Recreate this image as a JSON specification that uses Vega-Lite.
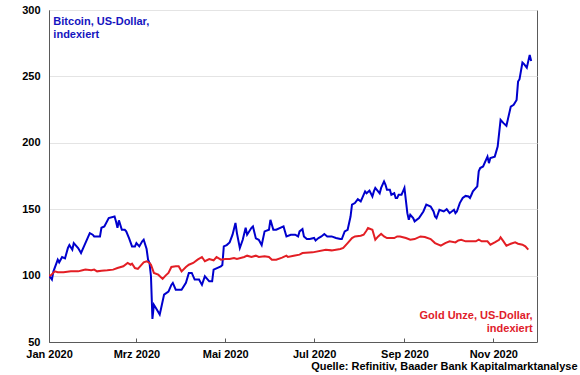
{
  "$schema": "https://vega.github.io/schema/vega-lite/v6.json",
  "width": 488,
  "height": 332,
  "autosize": "none",
  "padding": {"left": 49, "top": 10, "right": 43, "bottom": 33},
  "background": "white",
  "config": {
    "font": "Liberation Sans",
    "view": {"stroke": "#5a5a5a", "strokeWidth": 1}
  },
  "datasets": {
    "btc": [
      {"d":"2020-01-01","v":100},{"d":"2020-01-03","v":97},{"d":"2020-01-04","v":103},{"d":"2020-01-07","v":112},{"d":"2020-01-08","v":110},{"d":"2020-01-10","v":114},{"d":"2020-01-12","v":113},{"d":"2020-01-14","v":120.8},{"d":"2020-01-15","v":123},{"d":"2020-01-17","v":119.5},{"d":"2020-01-18","v":124.5},{"d":"2020-01-21","v":120.8},{"d":"2020-01-23","v":117},{"d":"2020-01-25","v":122},{"d":"2020-01-29","v":132},{"d":"2020-01-31","v":130.8},
      {"d":"2020-02-01","v":129.5},{"d":"2020-02-05","v":129.5},{"d":"2020-02-06","v":136},{"d":"2020-02-08","v":137},{"d":"2020-02-11","v":143.3},{"d":"2020-02-15","v":144.5},{"d":"2020-02-16","v":140.8},{"d":"2020-02-17","v":136},{"d":"2020-02-18","v":141.6},{"d":"2020-02-20","v":134.5},{"d":"2020-02-22","v":134.5},{"d":"2020-02-23","v":133.3},{"d":"2020-02-25","v":128},{"d":"2020-02-27","v":122},{"d":"2020-02-29","v":122},
      {"d":"2020-03-01","v":124.5},{"d":"2020-03-03","v":122},{"d":"2020-03-05","v":125.8},{"d":"2020-03-06","v":127},{"d":"2020-03-08","v":120},{"d":"2020-03-09","v":112},{"d":"2020-03-10","v":109.5},{"d":"2020-03-11","v":99.5},{"d":"2020-03-12","v":67.4},{"d":"2020-03-13","v":78},{"d":"2020-03-15","v":74.4},{"d":"2020-03-17","v":70.7},{"d":"2020-03-18","v":75.6},{"d":"2020-03-20","v":85.7},{"d":"2020-03-23","v":88},{"d":"2020-03-25","v":93},{"d":"2020-03-26","v":94.5},{"d":"2020-03-28","v":89.4},
      {"d":"2020-04-01","v":89.4},{"d":"2020-04-04","v":94.5},{"d":"2020-04-06","v":102},{"d":"2020-04-08","v":102},{"d":"2020-04-10","v":97},{"d":"2020-04-13","v":97},{"d":"2020-04-15","v":93},{"d":"2020-04-17","v":99.5},{"d":"2020-04-20","v":95.7},{"d":"2020-04-22","v":95.7},{"d":"2020-04-23","v":104.5},{"d":"2020-04-28","v":107},{"d":"2020-04-29","v":108},{"d":"2020-04-30","v":122},
      {"d":"2020-05-02","v":123},{"d":"2020-05-04","v":125},{"d":"2020-05-06","v":130.8},{"d":"2020-05-08","v":139.6},{"d":"2020-05-09","v":132},{"d":"2020-05-11","v":120.8},{"d":"2020-05-13","v":127},{"d":"2020-05-15","v":136},{"d":"2020-05-16","v":130.8},{"d":"2020-05-19","v":136},{"d":"2020-05-20","v":137},{"d":"2020-05-22","v":128},{"d":"2020-05-24","v":127},{"d":"2020-05-26","v":123},{"d":"2020-05-28","v":133.3},{"d":"2020-05-31","v":134.5},
      {"d":"2020-06-01","v":142},{"d":"2020-06-03","v":134.5},{"d":"2020-06-05","v":134.5},{"d":"2020-06-10","v":137},{"d":"2020-06-12","v":129.5},{"d":"2020-06-15","v":130.8},{"d":"2020-06-18","v":130.8},{"d":"2020-06-20","v":129.5},{"d":"2020-06-21","v":133.3},{"d":"2020-06-23","v":135},{"d":"2020-06-24","v":129.5},{"d":"2020-06-26","v":127.5},{"d":"2020-06-28","v":127.5},
      {"d":"2020-07-01","v":128.3},{"d":"2020-07-02","v":126.5},{"d":"2020-07-04","v":128.3},{"d":"2020-07-06","v":129.5},{"d":"2020-07-08","v":131.3},{"d":"2020-07-10","v":129.5},{"d":"2020-07-13","v":129.5},{"d":"2020-07-16","v":128.3},{"d":"2020-07-19","v":127.5},{"d":"2020-07-20","v":127.5},{"d":"2020-07-22","v":133.3},{"d":"2020-07-24","v":134.5},{"d":"2020-07-26","v":144.5},{"d":"2020-07-27","v":153.4},{"d":"2020-07-29","v":154.6},{"d":"2020-07-31","v":157.6},
      {"d":"2020-08-02","v":155.9},{"d":"2020-08-03","v":158.4},{"d":"2020-08-05","v":163.4},{"d":"2020-08-06","v":162},{"d":"2020-08-08","v":164},{"d":"2020-08-10","v":159.6},{"d":"2020-08-11","v":163.4},{"d":"2020-08-12","v":166},{"d":"2020-08-15","v":162},{"d":"2020-08-16","v":166},{"d":"2020-08-18","v":170.9},{"d":"2020-08-19","v":168.4},{"d":"2020-08-20","v":164.6},{"d":"2020-08-22","v":164.6},{"d":"2020-08-23","v":160.9},{"d":"2020-08-25","v":162},{"d":"2020-08-26","v":158.4},{"d":"2020-08-27","v":158.4},{"d":"2020-08-28","v":160.9},{"d":"2020-08-30","v":160.9},{"d":"2020-08-31","v":163.4},
      {"d":"2020-09-01","v":166},{"d":"2020-09-03","v":147},{"d":"2020-09-04","v":142},{"d":"2020-09-05","v":145.8},{"d":"2020-09-07","v":143.3},{"d":"2020-09-08","v":140.8},{"d":"2020-09-11","v":143.3},{"d":"2020-09-14","v":148.3},{"d":"2020-09-16","v":153.4},{"d":"2020-09-19","v":152},{"d":"2020-09-21","v":148.3},{"d":"2020-09-22","v":144.5},{"d":"2020-09-23","v":143.3},{"d":"2020-09-25","v":149.6},{"d":"2020-09-28","v":148.3},{"d":"2020-09-30","v":150},
      {"d":"2020-10-02","v":147},{"d":"2020-10-05","v":149.6},{"d":"2020-10-06","v":147},{"d":"2020-10-07","v":148.3},{"d":"2020-10-09","v":154.6},{"d":"2020-10-11","v":158.4},{"d":"2020-10-13","v":160},{"d":"2020-10-15","v":159.6},{"d":"2020-10-16","v":158.4},{"d":"2020-10-17","v":160.9},{"d":"2020-10-18","v":163.4},{"d":"2020-10-21","v":167.2},{"d":"2020-10-22","v":178.5},{"d":"2020-10-23","v":181},{"d":"2020-10-25","v":182.2},{"d":"2020-10-27","v":187.2},{"d":"2020-10-28","v":189.6},{"d":"2020-10-29","v":184.7},{"d":"2020-10-30","v":188.5},
      {"d":"2020-11-02","v":189.6},{"d":"2020-11-04","v":197.2},{"d":"2020-11-06","v":217.3},{"d":"2020-11-08","v":214.8},{"d":"2020-11-10","v":212.8},{"d":"2020-11-13","v":227.3},{"d":"2020-11-15","v":228.6},{"d":"2020-11-17","v":232.3},{"d":"2020-11-18","v":246.1},{"d":"2020-11-19","v":247.9},{"d":"2020-11-21","v":260.4},{"d":"2020-11-22","v":259.4},{"d":"2020-11-24","v":256.6},{"d":"2020-11-26","v":266.2},{"d":"2020-11-27","v":261.6}
    ],
    "gold": [
      {"d":"2020-01-01","v":100},{"d":"2020-01-02","v":100},{"d":"2020-01-05","v":103.2},{"d":"2020-01-07","v":102.5},{"d":"2020-01-11","v":102.5},{"d":"2020-01-16","v":103.2},{"d":"2020-01-21","v":103.2},{"d":"2020-01-24","v":104},{"d":"2020-01-26","v":104.5},{"d":"2020-01-30","v":104},
      {"d":"2020-02-01","v":104.5},{"d":"2020-02-03","v":103.2},{"d":"2020-02-06","v":103.7},{"d":"2020-02-10","v":104},{"d":"2020-02-14","v":104.5},{"d":"2020-02-17","v":105.7},{"d":"2020-02-21","v":107},{"d":"2020-02-24","v":109.5},{"d":"2020-02-26","v":108.2},{"d":"2020-02-27","v":109},{"d":"2020-02-29","v":105.7},
      {"d":"2020-03-02","v":105},{"d":"2020-03-04","v":107.5},{"d":"2020-03-06","v":110},{"d":"2020-03-08","v":110.8},{"d":"2020-03-10","v":109.5},{"d":"2020-03-11","v":108.2},{"d":"2020-03-13","v":102},{"d":"2020-03-16","v":100.7},{"d":"2020-03-19","v":97.5},{"d":"2020-03-21","v":100},{"d":"2020-03-23","v":102},{"d":"2020-03-25","v":106.5},{"d":"2020-03-28","v":107},{"d":"2020-03-30","v":107},
      {"d":"2020-04-01","v":103.2},{"d":"2020-04-04","v":106.5},{"d":"2020-04-06","v":108.2},{"d":"2020-04-09","v":109.5},{"d":"2020-04-12","v":112},{"d":"2020-04-15","v":114},{"d":"2020-04-17","v":110.8},{"d":"2020-04-20","v":112.5},{"d":"2020-04-23","v":111.5},{"d":"2020-04-25","v":114},{"d":"2020-04-28","v":112},
      {"d":"2020-05-01","v":112.5},{"d":"2020-05-04","v":112.5},{"d":"2020-05-07","v":113.3},{"d":"2020-05-09","v":112.5},{"d":"2020-05-14","v":114},{"d":"2020-05-16","v":115},{"d":"2020-05-19","v":114},{"d":"2020-05-22","v":115},{"d":"2020-05-24","v":114},{"d":"2020-05-28","v":114.5},{"d":"2020-05-31","v":114},
      {"d":"2020-06-02","v":112},{"d":"2020-06-05","v":112},{"d":"2020-06-09","v":113.5},{"d":"2020-06-12","v":115},{"d":"2020-06-13","v":114},{"d":"2020-06-17","v":115},{"d":"2020-06-21","v":115.8},{"d":"2020-06-23","v":117},{"d":"2020-06-30","v":117.5},
      {"d":"2020-07-09","v":119.5},{"d":"2020-07-13","v":119},{"d":"2020-07-19","v":120},{"d":"2020-07-21","v":120.8},{"d":"2020-07-24","v":124.5},{"d":"2020-07-27","v":128.3},{"d":"2020-07-29","v":129.5},
      {"d":"2020-08-02","v":130},{"d":"2020-08-04","v":130.8},{"d":"2020-08-06","v":134},{"d":"2020-08-07","v":135.8},{"d":"2020-08-10","v":134.5},{"d":"2020-08-11","v":130.8},{"d":"2020-08-12","v":127},{"d":"2020-08-14","v":129.5},{"d":"2020-08-16","v":131.5},{"d":"2020-08-18","v":129.5},{"d":"2020-08-20","v":128.3},{"d":"2020-08-22","v":128.3},{"d":"2020-08-25","v":128.3},{"d":"2020-08-27","v":129.5},{"d":"2020-08-29","v":129.5},
      {"d":"2020-09-02","v":128.3},{"d":"2020-09-05","v":127},{"d":"2020-09-08","v":127.5},{"d":"2020-09-12","v":129.5},{"d":"2020-09-15","v":129},{"d":"2020-09-19","v":127.5},{"d":"2020-09-22","v":124.5},{"d":"2020-09-26","v":122.5},{"d":"2020-09-29","v":124.5},
      {"d":"2020-10-02","v":125.8},{"d":"2020-10-06","v":125},{"d":"2020-10-08","v":126.5},{"d":"2020-10-10","v":127},{"d":"2020-10-13","v":125.8},{"d":"2020-10-16","v":125.8},{"d":"2020-10-20","v":125.8},{"d":"2020-10-22","v":127},{"d":"2020-10-24","v":125.8},{"d":"2020-10-28","v":125.8},{"d":"2020-10-30","v":123.3},
      {"d":"2020-11-02","v":125},{"d":"2020-11-05","v":127},{"d":"2020-11-06","v":128.8},{"d":"2020-11-08","v":125.8},{"d":"2020-11-10","v":122.5},{"d":"2020-11-13","v":124},{"d":"2020-11-16","v":125},{"d":"2020-11-18","v":124},{"d":"2020-11-21","v":123.3},{"d":"2020-11-23","v":122},{"d":"2020-11-25","v":119.5}
    ]
  },
  "encoding": {
    "x": {
      "field": "d",
      "type": "temporal",
      "scale": {"type": "utc", "domain": [{"year": 2020, "month": 1, "date": 1, "utc": true}, {"year": 2020, "month": 12, "date": 1, "utc": true}]},
      "axis": {
        "values": [
          {"year": 2020, "month": 1, "date": 1, "utc": true},
          {"year": 2020, "month": 3, "date": 1, "utc": true},
          {"year": 2020, "month": 5, "date": 1, "utc": true},
          {"year": 2020, "month": 7, "date": 1, "utc": true},
          {"year": 2020, "month": 9, "date": 1, "utc": true},
          {"year": 2020, "month": 11, "date": 1, "utc": true}
        ],
        "labelExpr": "['Jan','Feb','Mrz','Apr','Mai','Jun','Jul','Aug','Sep','Okt','Nov','Dez'][utcmonth(datum.value)] + ' ' + utcyear(datum.value)",
        "grid": false,
        "tickSize": -4,
        "tickColor": "#5a5a5a",
        "domainColor": "#5a5a5a",
        "labelFontSize": 11,
        "labelFontWeight": "bold",
        "labelColor": "#000000",
        "labelPadding": 10,
        "labelFlush": false,
        "labelOverlap": false,
        "title": "Quelle: Refinitiv, Baader Bank Kapitalmarktanalyse",
        "titleX": 528,
        "titleY": 27,
        "titleAlign": "right",
        "titleAnchor": null,
        "titleBaseline": "alphabetic",
        "titleFontSize": 11,
        "titleFontWeight": "bold",
        "titleColor": "#000000"
      }
    },
    "y": {
      "field": "v",
      "type": "quantitative",
      "scale": {"domain": [50, 300], "nice": false, "zero": false},
      "axis": {
        "values": [50, 100, 150, 200, 250, 300],
        "grid": true,
        "gridColor": "#e4e4e4",
        "ticks": false,
        "domainColor": "#5a5a5a",
        "labelFontSize": 11,
        "labelFontWeight": "bold",
        "labelColor": "#000000",
        "labelPadding": 9,
        "title": null
      }
    }
  },
  "layer": [
    {
      "data": {"name": "btc"},
      "mark": {"type": "line", "color": "#0000CD", "strokeWidth": 2, "clip": true}
    },
    {
      "data": {"name": "gold"},
      "mark": {"type": "line", "color": "#E31E24", "strokeWidth": 2, "clip": true}
    },
    {
      "data": {"values": [{"d": "2020-01-04", "v": 288.7, "t": ["Bitcoin, US-Dollar,", "indexiert"]}]},
      "mark": {"type": "text", "align": "left", "baseline": "alphabetic", "fontSize": 11, "fontWeight": "bold", "lineHeight": 13, "color": "#1515C0"},
      "encoding": {"text": {"field": "t"}}
    },
    {
      "data": {"values": [{"d": "2020-11-28", "v": 67, "t": ["Gold Unze, US-Dollar,", "indexiert"]}]},
      "mark": {"type": "text", "align": "right", "baseline": "alphabetic", "fontSize": 11, "fontWeight": "bold", "lineHeight": 13, "color": "#E0202A"},
      "encoding": {"text": {"field": "t"}}
    }
  ]
}
